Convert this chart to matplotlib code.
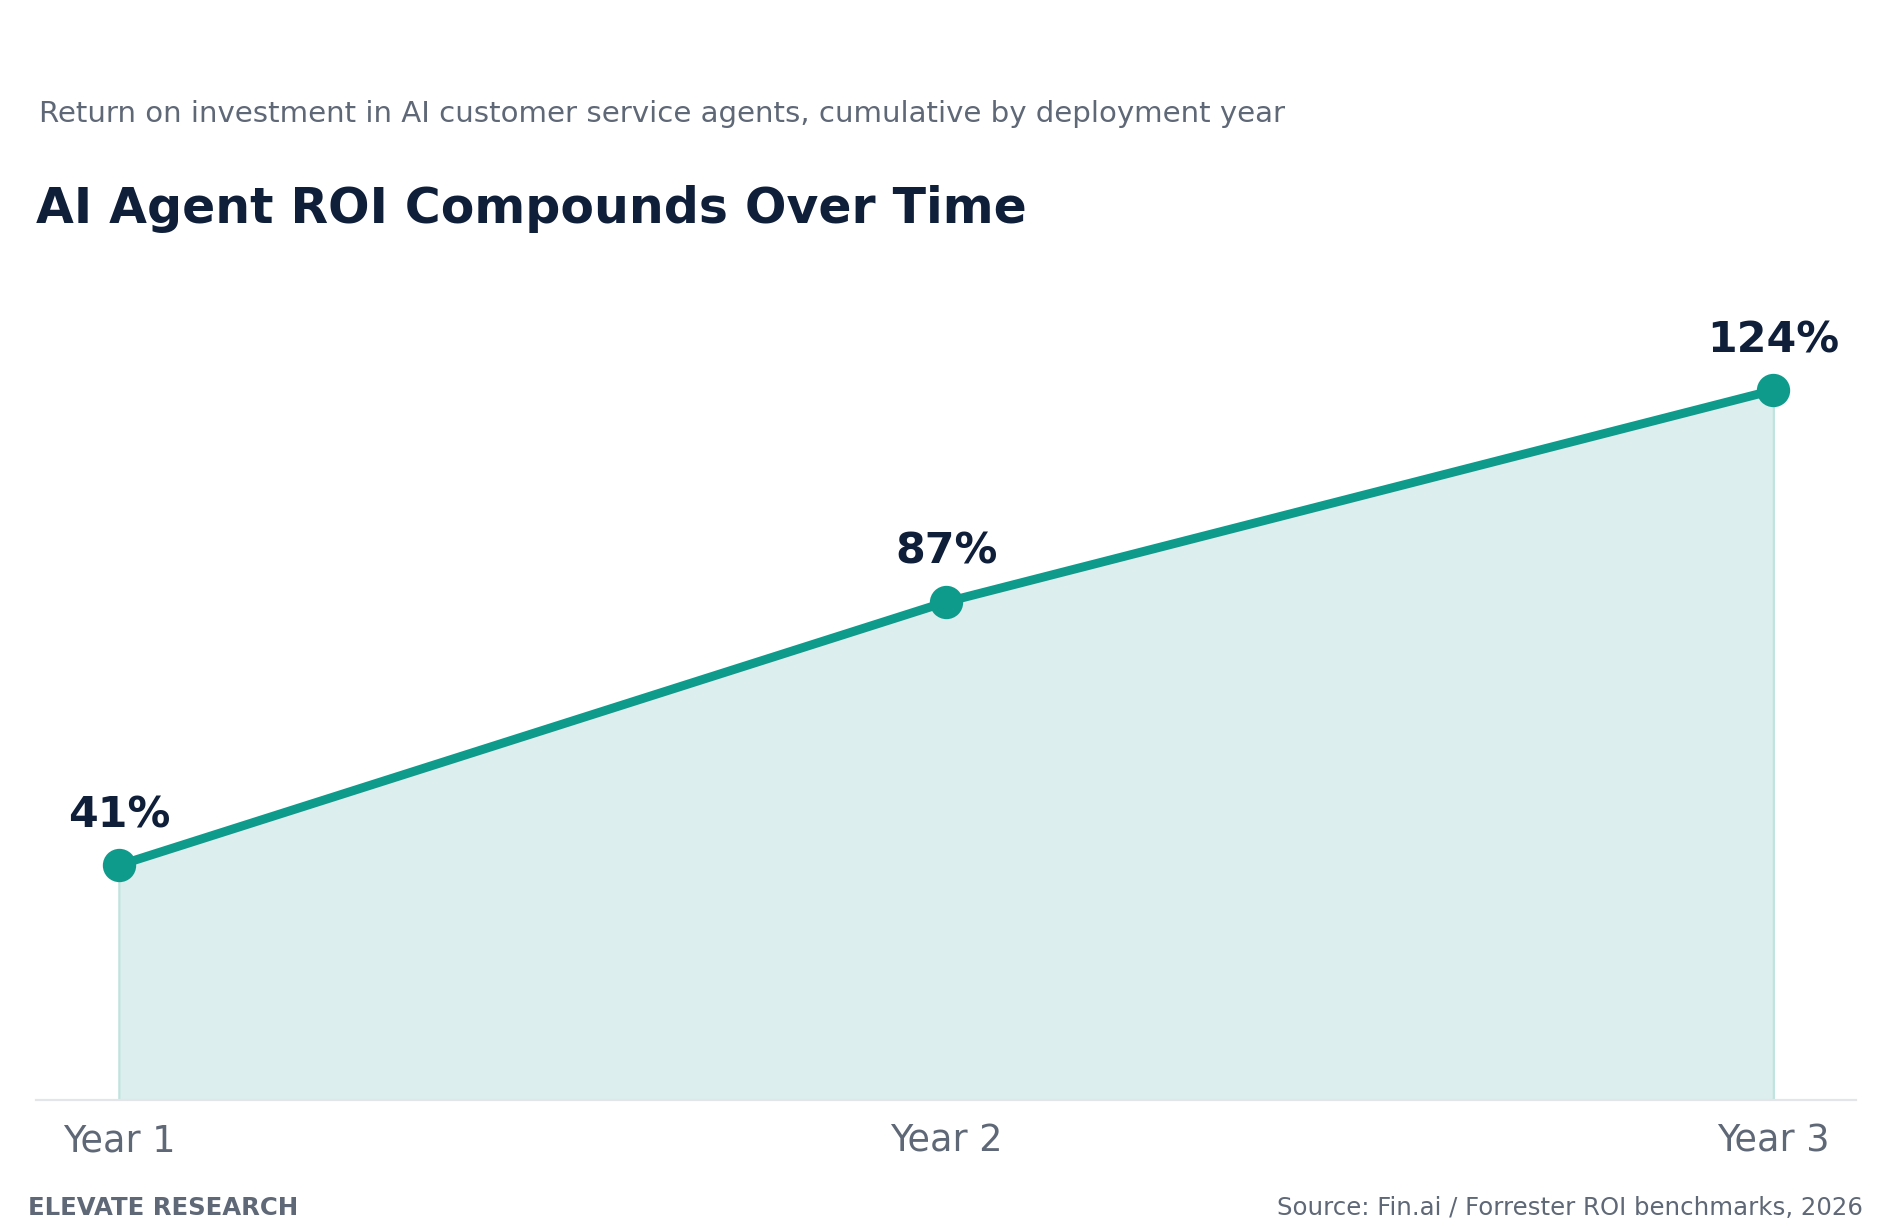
import matplotlib.pyplot as plt

# данные
years = ["Year 1", "Year 2", "Year 3"]
roi = [41, 87, 124]
value_labels = ["41%", "87%", "124%"]

teal = "#0f9b8c"
navy = "#0f1f3a"
gray = "#5f6877"

fig = plt.figure(figsize=(9.46, 6.16), dpi=200)
ax = fig.add_axes([0.0191, 0.1072, 0.9619, 0.6504])

x = list(range(len(years)))
ax.fill_between(x, roi, 0, color="#dcefee", edgecolor="#bfe3df", linewidth=0.8)
ax.plot(x, roi, color=teal, linewidth=3.2, marker="o", markersize=11,
        markerfacecolor=teal, markeredgecolor=teal, solid_capstyle="round", zorder=3)

for xi, v, lab in zip(x, roi, value_labels):
    ax.annotate(lab, (xi, v), xytext=(0, 10.5), textcoords="offset points",
                ha="center", va="bottom", fontsize=15.4, fontweight="bold", color=navy)

ax.set_xlim(-0.1, 2.1)
ax.set_ylim(0, 140)
ax.set_xticks(x)
ax.set_xticklabels(years, fontsize=13.2, color=gray)
ax.tick_params(axis="x", length=0, pad=8)
ax.set_yticks([])
for s in ["top", "left", "right"]:
    ax.spines[s].set_visible(False)
ax.spines["bottom"].set_color("#e3e5e8")
ax.spines["bottom"].set_linewidth(0.8)

fig.text(0.0205, 0.9075, "Return on investment in AI customer service agents, cumulative by deployment year",
         fontsize=10.55, color=gray, va="center", ha="left")
fig.text(0.019, 0.830, "AI Agent ROI Compounds Over Time",
         fontsize=17.6, fontweight="bold", color=navy, va="center", ha="left")
fig.text(0.0147, 0.0197, "ELEVATE RESEARCH", fontsize=8.8, fontweight="bold",
         color=gray, va="center", ha="left")
fig.text(0.9847, 0.0197, "Source: Fin.ai / Forrester ROI benchmarks, 2026", fontsize=8.8,
         color=gray, va="center", ha="right")

fig.savefig("out.png", dpi=200)
